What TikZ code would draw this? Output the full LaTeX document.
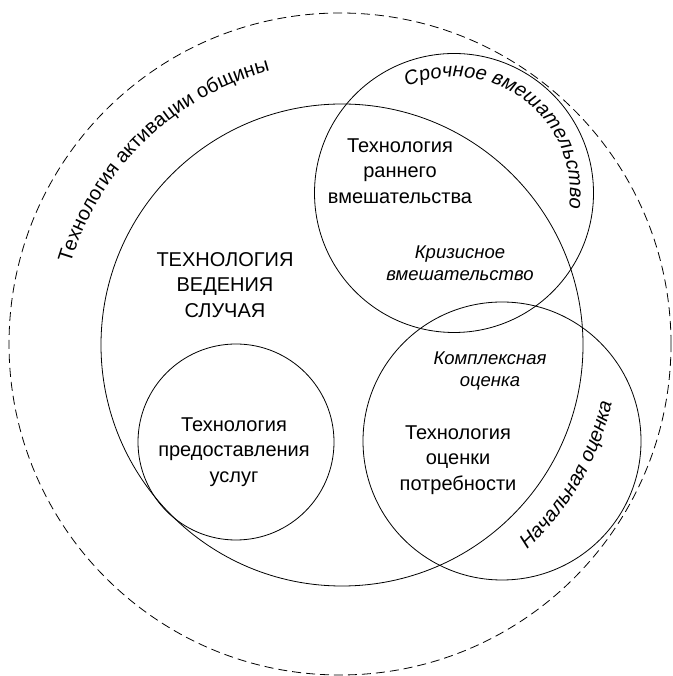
\documentclass[tikz,border=0pt]{standalone}
\usepackage{fontspec}
\setmainfont{Liberation Sans}
\usetikzlibrary{decorations.text}
\begin{document}
\begin{tikzpicture}[x=1pt,y=1pt,
  circ/.style={draw=black, line width=0.8pt, circle, inner sep=0pt},
  lbl/.style={align=center, font=\fontsize{20}{25.5}\selectfont, inner sep=0pt},
  ilbl/.style={align=center, font=\itshape\fontsize{18.5}{21.5}\selectfont, inner sep=0pt}]
\useasboundingbox (0,0) rectangle (672,676);
% circles
\node[circ, dash pattern=on 9pt off 5pt, minimum size=662pt] (outer) at (340,332) {};
\node[circ, minimum size=482pt] (big) at (342,331) {};
\node[circ, minimum size=279pt] (early) at (454,483) {};
\node[circ, minimum size=278pt] (needs) at (502,235) {};
\node[circ, minimum size=196pt] (small) at (236,234) {};
% straight labels
\node[lbl] (case) at (225,391) {ТЕХНОЛОГИЯ\\ВЕДЕНИЯ\\СЛУЧАЯ};
\node[lbl] (earlytxt) at (400,505) {Технология\\раннего\\вмешательства};
\node[ilbl] (crisis) at (460,413) {Кризисное\\вмешательство};
\node[ilbl] (complex) at (490,305) {Комплексная\\оценка};
\node[lbl] (needstxt) at (458,216) {Технология\\оценки\\потребности};
\node[lbl] (servtxt) at (234,224) {Технология\\предоставления\\услуг};
% curved labels
\coordinate (oc) at (341,332);
\coordinate (ec) at (454,483);
\path[decorate, decoration={text along path, text align=center,
  text={|\fontsize{20}{24}\selectfont|Технология активации общины}}]
  ([shift={(180:282)}]oc) arc[start angle=180, end angle=88, radius=282];
\path[decorate, decoration={text along path, text align=center,
  text={|\itshape\fontsize{20}{24}\selectfont|Срочное вмешательство}}]
  ([shift={(143:116)}]ec) arc[start angle=143, end angle=-37, radius=116];
\path[decorate, decoration={text along path, text align=center,
  text={|\itshape\fontsize{20}{24}\selectfont|Начальная оценка}}]
  ([shift={(-80:277)}]oc) arc[start angle=-80, end angle=20, radius=277];
\end{tikzpicture}
\end{document}
